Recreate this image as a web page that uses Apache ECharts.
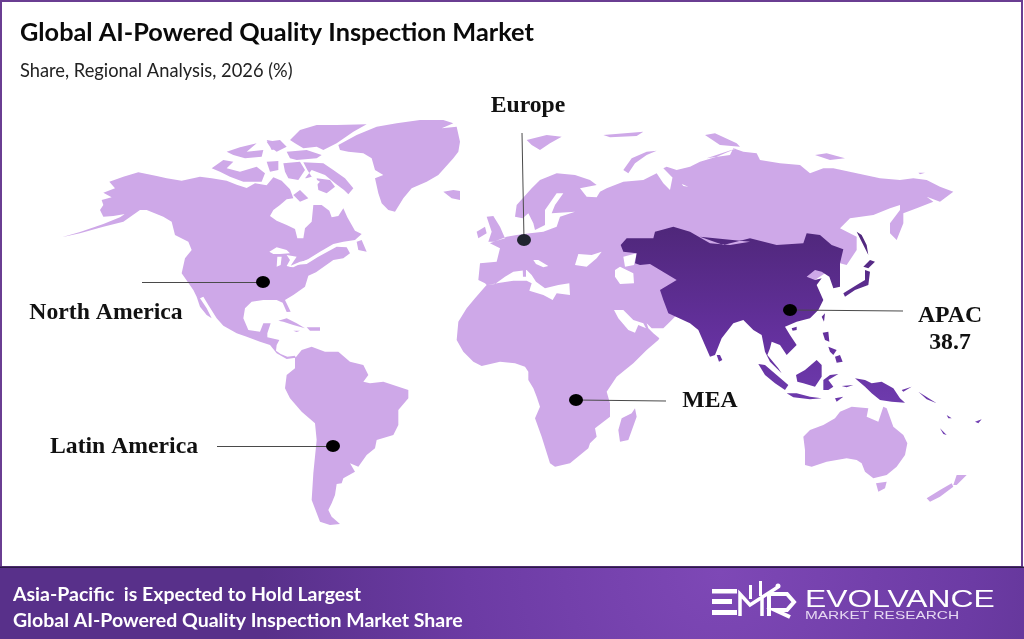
<![CDATA[<!DOCTYPE html>
<html><head><meta charset="utf-8">
<style>html,body{margin:0;padding:0;background:#fff}#c{width:1024px;height:639px}</style>
<script src="https://cdn.jsdelivr.net/npm/echarts@6/dist/echarts.min.js"></script></head>
<body><div id="c"></div>
<script>
// ---- chart content ----
const chartTitle = 'Global AI-Powered Quality Inspection Market';
const chartSubtitle = 'Share, Regional Analysis, 2026 (%)';
const bannerLines = ['Asia-Pacific  is Expected to Hold Largest', 'Global AI-Powered Quality Inspection Market Share'];
const regionNames = ['North America', 'Europe', 'APAC', 'MEA', 'Latin America'];
const regionShares = [null, null, 38.7, null, null];
// map-space anchors for each region (marker, leader end, label)
const regionMarkers = [[263,282],[524,240],[790,310],[576,400],[333,446]];
const leaderEnds = [[142,282],[522,133],[903,311],[666,401],[217,446]];
const labelAnchors = [[106,313],[528,106],[950,329],[710,401],[124,447]];

// ---- map outlines, traced from the picture: [x,y, x,y ...] at 3 units per map unit from an origin ----
const t = (ox, oy, a) => { const r = []; for (let i = 0; i < a.length; i += 2) r.push([ox + a[i] / 3, -(oy + a[i + 1] / 3)]); return r; };
const Z1 = [60,110], Z2 = [450,110], Z3 = [700,130], Z5 = [270,340], Z6 = [740,340], Z9 = [180,290], Z10 = [450,260], Z11 = [690,290], Z12 = [220,115];
const tz = (z, a) => t(z[0], z[1], a);

const northAmerica = [
  ...tz(Z1,[120,300,130,285,125,270,155,262,130,248,165,235,148,215,190,200,235,187,290,198,320,205,365,212,420,200,455,205,500,212,530,224,560,234,585,220,620,226,640,202,665,212,690,238,700,265,680,268,660,285,640,300,630,318,650,332,680,345,705,357,712,385,730,385,735,355,755,335,760,285,785,285,808,302,815,322,835,318,850,295,862,322,885,362,905,372,885,390,850,395,820,402,780,425,745,447,705,465,740,462,775,440,830,410,860,412,870,430,850,445,820,450,768,487,745,497,735,530,700,555,675,570,692,605,680,606,668,578]),
  ...tz(Z9,[310,35,290,30,250,30,215,35,195,55,190,85,205,120,240,125,250,100,272,100,262,130,262,142,298,150,290,165,288,182,302,192,322,200,345,197,347,203,320,207,290,190,270,165,240,155,200,140,170,130,130,107,110,85,85,45,70,20,60,25,80,55,95,85,80,75,60,50,50,20,40,0]),
  ...tz(Z1,[365,490,375,445,395,420,385,395,345,375,335,335,310,320,260,300,240,300,190,335,130,350,60,370,5,382,60,366,130,342,180,322,225,292,195,312,160,318,130,320])
];
const southAmerica = tz(Z5,[75,55,95,30,125,20,165,35,205,35,240,65,280,75,295,105,280,125,300,130,340,125,415,150,415,175,385,210,385,255,370,285,320,300,315,325,290,345,265,380,240,370,255,395,220,415,215,430,200,432,195,465,185,490,175,510,185,530,210,552,180,555,150,545,125,480,130,400,140,300,135,250,95,215,60,175,45,145,50,105,75,85]);
const afroEurasia = [
  ...tz(Z10,[110,75,105,80,75,115,50,145,25,185,20,240,40,275,70,305,95,318,150,305,195,310,225,320,235,335,235,360]),
  ...tz(Z5,[790,145,800,170,810,200,795,235,815,290,840,370,855,380,900,370,955,325,960,310,980,290,975,265,1020,230,1020,190,1010,155,1040,110,1090,70,1130,30,1165,0]),
  ...tz(Z10,[628,235,610,220,595,205,590,190,605,205,640,205,660,185,680,165,720,180]),
  ...tz(Z3,[240,560,300,480,420,400,440,405,470,360,470,320,420,295,450,265,520,255,570,235,600,225,600,240,570,280,570,310,590,330,610,280,610,250,650,235,700,215,680,200,720,215,760,185,720,170,680,150,640,145,600,150,540,145,470,130,400,115,370,115,330,130,300,105,240,100,180,90,170,70,130,65,100,55,90,75,20,85]),
  ...tz(Z2,[860,115,800,140,750,155,720,170,680,180,650,170,640,175,665,200,680,215,715,230,700,228,670,190,660,240,640,220,620,190,580,210,520,215,470,235,450,245,440,262,410,260,390,235,440,225,420,210,375,195,320,190,270,210,245,235,200,285,195,320,218,325,235,310,250,340,255,360,285,345,285,300,320,250,340,250,315,285,305,310,375,305,330,320,320,350,280,365,240,370,200,375,170,380,120,400,150,415,140,455,90,460,85,510,105,520])
];
const islandsLight = [
  tz(Z1,[455,175,490,150,520,155,500,175,540,185,590,170,615,190,605,215,550,215,510,200,480,185]),
  tz(Z1,[500,125,540,112,590,100,560,125,610,120,605,140,555,145,520,135]),
  tz(Z1,[620,95,660,90,680,110,650,125,630,110]),
  tz(Z12,[200,110,260,105,305,120,290,130,230,135,210,130]),
  tz(Z12,[210,75,240,45,290,30,350,30,440,28,400,50,350,85,310,105,290,95,250,100,225,85]),
  tz(Z12,[140,75,170,80,180,100,155,105]),
  tz(Z12,[140,140,175,138,175,165,150,170]),
  tz(Z12,[190,145,240,140,255,165,235,195,205,190,195,170]),
  tz(Z12,[250,142,310,145,340,165,375,190,400,220,385,238,372,225,345,205,315,180,275,165,255,190,285,200,262,165]),
  tz(Z12,[290,190,330,195,345,215,320,235,295,225]),
  tz(Z1,[700,255,720,240,745,265,720,275]),
  tz(Z1,[890,395,905,390,920,425,895,420]),
  tz(Z12,[355,90,410,60,470,35,530,25,600,15,670,15,700,25,665,40,710,35,720,80,715,110,700,130,655,180,620,200,575,220,550,250,525,290,505,285,485,265,475,235,465,190,490,180,465,165,455,130,430,115,385,110,360,105]),
  tz(Z12,[670,230,700,225,720,228,720,255,695,250]),
  tz(Z9,[295,92,320,85,350,100,375,115,340,105,310,95]),
  tz(Z9,[380,112,420,112,420,122,390,122]),
  tz(Z9,[340,122,360,122,350,126]),
  tz(Z2,[110,320,130,318,150,350,165,385,130,395,115,395,125,365]),
  tz(Z2,[80,365,105,350,110,370,85,385]),
  tz(Z2,[230,90,290,75,335,80,300,100,270,120,245,105]),
  tz(Z2,[460,75,580,65,560,78,480,82]),
  tz(Z2,[520,180,545,145,590,125,620,122,590,135,555,160,535,190]),
  tz(Z3,[345,75,380,70,435,85,390,90]),
  tz(Z3,[655,128,675,128,660,133]),
  tz(Z3,[15,15,45,10,110,40,120,50,60,45]),
  tz(Z6,[190,290,210,270,250,255,285,235,300,215,335,200,385,205,380,230,415,245,430,200,440,205,460,260,490,285,502,310,495,345,470,380,440,405,400,415,375,395,365,370,350,360,320,355,260,365,215,380,195,375,195,330]),
  tz(Z6,[408,430,440,425,435,445,415,455]),
  tz(Z6,[640,435,650,405,680,405,650,435]),
  tz(Z6,[560,475,600,450,635,430,640,440,600,470,570,485]),
  tz(Z5,[1095,205,1100,230,1075,300,1050,305,1045,270,1055,235,1085,220])
];
const waters = [
  tz(Z10,[112,75,135,72,165,50,190,35,230,30,245,45,258,65,285,85,325,75,358,70,360,105,320,100,308,120,280,105,238,92,245,70,230,62,190,62,150,68]),
  tz(Z10,[250,0,265,0,295,18,280,22,258,12]),
  tz(Z2,[375,465,385,432,425,435,455,425,440,445,410,470]),
  tz(Z2,[495,480,510,470,550,490,552,520,510,522,495,500]),
  tz(Z2,[520,440,560,430,552,465,525,470]),
  tz(Z10,[492,150,520,150,550,180,580,190,588,205,565,195,555,218,535,210,505,175]),
  tz(Z1,[628,425,650,412,680,420,690,430,660,432,640,432]),
  tz(Z1,[650,470,652,440,665,440,662,465]),
  tz(Z1,[680,435,710,440,690,470,680,468,690,450]),
  tz(Z1,[685,470,720,455,745,450,700,472]),
  tz(Z12,[240,195,275,185,300,200,285,215,255,215])
];
const sardinia = tz(Z10,[218,25,228,25,228,50,219,50]);
const apacMain = [
  ...tz(Z2,[512,405,530,385,610,385,615,365,670,350,720,365,780,400,840,405,900,395]),
  ...tz(Z3,[0,320,70,345,150,325,230,345,310,340,320,310,360,315,395,345,430,358,420,400,420,440,420,470,400,475,388,440,365,425,345,420,320,440,345,450,365,445,350,465]),
  ...tz(Z11,[400,30,385,60,360,85,320,95,285,110,300,135,320,165,290,195,270,165,245,155,240,175,232,195,265,235,275,250,240,215,225,185,215,135,190,120,160,90,130,100,95,145,75,195,60,200,25,120,0,100]),
  ...tz(Z2,[720,640,655,610,640,570,630,540,680,510,630,480,600,462,570,465,555,460,560,430,520,425])
];
const islandsAsia = [
  tz(Z3,[470,305,485,315,500,345,505,375,490,345]),
  tz(Z3,[490,410,510,390,525,395,505,415]),
  tz(Z3,[430,490,470,465,495,450,495,420,510,425,505,465,465,480,435,500]),
  tz(Z3,[365,560,375,550,372,575]),
  tz(Z11,[305,115,320,110,320,120,308,122]),
  tz(Z11,[205,222,225,225,260,255,295,285,285,300,255,280,225,255]),
  tz(Z11,[290,310,320,310,360,320,395,325,360,328,310,322]),
  tz(Z11,[318,255,345,240,380,210,395,225,395,260,375,290,340,280,322,275]),
  tz(Z11,[400,270,420,255,445,252,415,270,430,290,415,300,400,300]),
  tz(Z11,[495,265,525,270,545,280,575,275,610,295,630,325,645,338,605,335,570,330,545,310,525,290]),
  tz(Z11,[398,128,415,125,418,155,405,150]),
  tz(Z11,[435,200,450,195,458,215,440,218]),
  tz(Z11,[415,170,440,180,430,195,420,185]),
  tz(Z11,[80,195,90,195,97,210,87,215]),
  tz(Z11,[435,325,460,320,440,335]),
  tz(Z11,[455,288,490,285,470,292]),
  tz(Z11,[635,300,665,290,640,305]),
  tz(Z6,[600,265,620,285,610,282]),
  tz(Z6,[705,245,725,238,715,250]),
  tz(Z6,[620,225,635,235,625,235]),
  tz(Z6,[535,155,590,190,560,178])
];

const poly = rings => rings.map(r => [r]);
const mapShapes = { type: 'FeatureCollection', features: [
  { type:'Feature', properties:{name:'Land'}, geometry:{ type:'MultiPolygon', coordinates: poly([northAmerica, southAmerica, afroEurasia, ...islandsLight]) } },
  { type:'Feature', properties:{name:'Water'}, geometry:{ type:'MultiPolygon', coordinates: poly(waters) } },
  { type:'Feature', properties:{name:'Isle'}, geometry:{ type:'MultiPolygon', coordinates: poly([sardinia]) } },
  { type:'Feature', properties:{name:'APAC'}, geometry:{ type:'MultiPolygon', coordinates: poly([apacMain, ...islandsAsia]) } }
]};
echarts.registerMap('emr', mapShapes);

const g = p => [p[0], -p[1]];
const LIGHT = '#cea8e8';
const chart = echarts.init(document.getElementById('c'), null, { renderer: 'canvas' });
const serif = 'Liberation Serif';
chart.setOption({
  animation: false,
  backgroundColor: '#fff',
  title: [
    { text: chartTitle, left: 20, top: 20, padding: 0, textStyle: { fontFamily: 'Lato', fontWeight: 'bold', fontSize: 25.3, color: '#0a0a0a' } },
    { text: chartSubtitle, left: 20, top: 62, padding: 0, textStyle: { fontFamily: 'Lato', fontWeight: 'normal', fontSize: 18.3, color: '#222' } }
  ],
  geo: {
    map: 'emr', silent: true, roam: false, aspectScale: 1,
    left: 0, top: 0, width: 1024, height: 639,
    boundingCoords: [[0, 0], [1024, -639]],
    label: { show: false },
    itemStyle: { areaColor: LIGHT, borderWidth: 0 },
    emphasis: { disabled: true },
    regions: [
      { name: 'Land', itemStyle: { areaColor: LIGHT, borderWidth: 0 } },
      { name: 'Water', itemStyle: { areaColor: '#ffffff', borderWidth: 0 } },
      { name: 'Isle', itemStyle: { areaColor: LIGHT, borderWidth: 0 } },
      { name: 'APAC', itemStyle: { borderWidth: 0, areaColor: new echarts.graphic.LinearGradient(0, 0, 0, 1, [
        { offset: 0, color: '#4f277a' }, { offset: 0.55, color: '#65319f' }, { offset: 1, color: '#7240b4' } ]) } }
    ]
  },
  series: [
    { type: 'lines', coordinateSystem: 'geo', silent: true, polyline: false, z: 3,
      lineStyle: { color: '#4a4a4a', width: 1, opacity: 1, curveness: 0 },
      data: regionNames.map((n, i) => ({ coords: [g(regionMarkers[i]), g(leaderEnds[i])] })) },
    { type: 'scatter', coordinateSystem: 'geo', silent: true, z: 4,
      symbol: 'circle', symbolSize: [14, 12],
      itemStyle: { opacity: 1, color: p => p.dataIndex === 1 ? '#20242f' : '#000' },
      data: regionMarkers.map(g) },
    { type: 'scatter', coordinateSystem: 'geo', silent: true, z: 5, symbolSize: 0,
      itemStyle: { opacity: 1 },
      label: { show: true, position: 'inside', fontFamily: serif, fontWeight: 'bold', fontSize: 23.7, lineHeight: 27, color: '#111',
        formatter: p => regionShares[p.dataIndex] == null ? regionNames[p.dataIndex] : regionNames[p.dataIndex] + '\n' + regionShares[p.dataIndex] },
      data: labelAnchors.map(g) }
  ],
  graphic: { elements: [
    { type: 'rect', z: 10, silent: true, shape: { x: 1, y: 1, width: 1021, height: 566 }, style: { fill: 'none', stroke: '#6a3d92', lineWidth: 2 } },
    { type: 'rect', z: 11, silent: true, shape: { x: 0, y: 567, width: 1024, height: 72 }, style: {
      fill: new echarts.graphic.RadialGradient(720, 572, 460, [{ offset: 0, color: '#7e48b6' }, { offset: 0.55, color: '#6c3ba4' }, { offset: 1, color: '#58308a' }], true) } },
    { type: 'rect', z: 12, silent: true, shape: { x: 0, y: 566.5, width: 1024, height: 1.5 }, style: { fill: '#2c1b47' } },
    { type: 'text', z: 12, silent: true, x: 13, y: 585, style: { text: bannerLines[0], fill: '#fff', font: 'bold 19.5px Lato' } },
    { type: 'text', z: 12, silent: true, x: 13, y: 611, style: { text: bannerLines[1], fill: '#fff', font: 'bold 19.5px Lato' } },
    { type: 'text', z: 12, silent: true, x: 805, y: 588, scaleX: 1.325, style: { text: 'EVOLVANCE', fill: '#fff', font: '24px "Liberation Sans"' } },
    { type: 'text', z: 12, silent: true, x: 805, y: 610, scaleX: 1.34, style: { text: 'MARKET RESEARCH', fill: '#e6d8f2', font: '11.5px "Liberation Sans"' } },
    // logo mark
    { type: 'rect', z: 12, silent: true, shape: { x: 712, y: 589, width: 25, height: 4.5 }, style: { fill: '#fff' } },
    { type: 'rect', z: 12, silent: true, shape: { x: 712, y: 599, width: 20, height: 5 }, style: { fill: '#fff' } },
    { type: 'rect', z: 12, silent: true, shape: { x: 712, y: 610, width: 25, height: 5 }, style: { fill: '#fff' } },
    { type: 'polyline', z: 12, silent: true, shape: { points: [[740,616],[740,594],[750,605],[778,587]] }, style: { stroke: '#fff', lineWidth: 3.5, fill: 'none' } },
    { type: 'rect', z: 12, silent: true, shape: { x: 749, y: 585, width: 3, height: 14 }, style: { fill: '#fff' } },
    { type: 'rect', z: 12, silent: true, shape: { x: 759, y: 581, width: 3, height: 15 }, style: { fill: '#fff' } },
    { type: 'circle', z: 12, silent: true, shape: { cx: 778, cy: 586, r: 2.5 }, style: { fill: '#fff' } },
    { type: 'polyline', z: 12, silent: true, shape: { points: [[762,616],[762,597]] }, style: { stroke: '#fff', lineWidth: 3.5, fill: 'none' } },
    { type: 'polyline', z: 12, silent: true, shape: { points: [[769,616],[769,594],[787,594],[794,602],[787,610],[775,610],[790,617]] }, style: { stroke: '#fff', lineWidth: 4, fill: 'none' } }
  ] }
});
</script></body></html>]]>
